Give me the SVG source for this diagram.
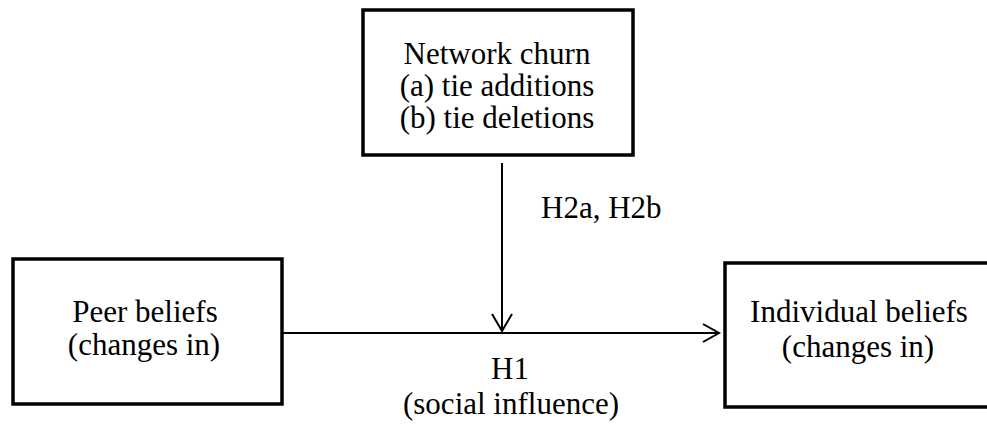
<svg xmlns="http://www.w3.org/2000/svg" width="987" height="425" viewBox="0 0 987 425">
<defs>
<style>
.box{fill:#fff;stroke:#000;stroke-width:3.5}
.t{font-family:"Liberation Serif","Times New Roman",serif;font-size:31px;fill:#000;text-anchor:middle}
.c{fill:none;stroke:#000;stroke-width:2}
</style>
</defs>
<rect width="987" height="425" fill="#fff"/>
<g id="connectors">
<line class="c" x1="282" y1="333" x2="719" y2="333"/>
<polyline class="c" points="703,324 719,333 703,342"/>
<line class="c" x1="502" y1="163" x2="502" y2="331"/>
<polyline class="c" points="492,314 502,331 512,314"/>
<text class="t" x="541" y="218" style="text-anchor:start">H2a, H2b</text>
<text class="t" x="510" y="379">H1</text>
<text class="t" x="511" y="414">(social influence)</text>
</g>
<g id="network-churn">
<rect class="box" x="363" y="10" width="270" height="145"/>
<text class="t" x="497" y="64">Network churn</text>
<text class="t" x="497" y="96">(a) tie additions</text>
<text class="t" x="497" y="128">(b) tie deletions</text>
</g>
<g id="peer-beliefs">
<rect class="box" x="13" y="259" width="269" height="145"/>
<text class="t" x="145" y="322">Peer beliefs</text>
<text class="t" x="144" y="355">(changes in)</text>
</g>
<g id="individual-beliefs">
<rect class="box" x="725" y="263" width="280" height="144"/>
<text class="t" x="859" y="322">Individual beliefs</text>
<text class="t" x="858" y="357">(changes in)</text>
</g>
</svg>
